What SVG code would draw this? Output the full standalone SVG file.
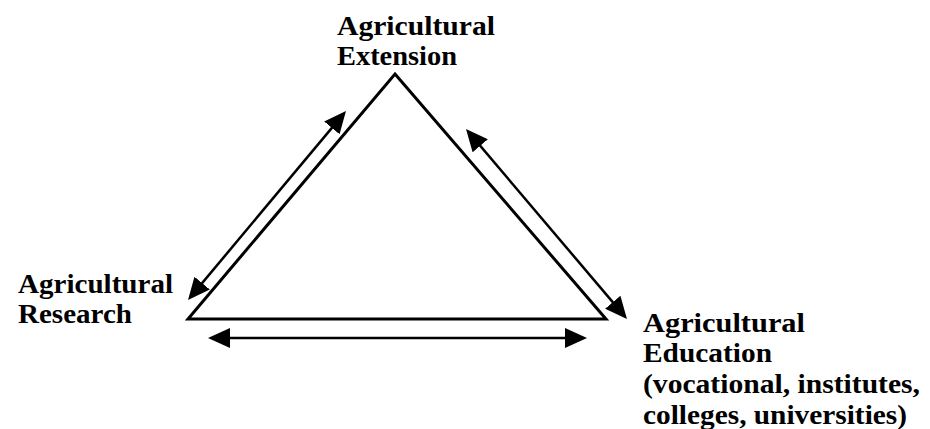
<svg xmlns="http://www.w3.org/2000/svg" width="930" height="429" viewBox="0 0 930 429">
<style>
.lbl{font-family:"Liberation Serif","Times New Roman",serif;font-weight:bold;font-size:27px;fill:#000}
.edge{fill:none;stroke:#000;stroke-width:3;stroke-linejoin:miter}
.arr{fill:none;stroke:#000;stroke-width:2.5;marker-start:url(#ah);marker-end:url(#ah)}
</style>
<defs>
<marker id="ah" viewBox="0 0 22 20" refX="18" refY="10" markerWidth="22" markerHeight="20" markerUnits="userSpaceOnUse" orient="auto-start-reverse">
<path d="M0,0 L22,10 L0,20 Z" fill="#000"/>
</marker>
</defs>
<rect width="930" height="429" fill="#fff"/>
<g id="triangle">
<path class="edge" d="M395,74 L606,319 L188,319 Z"/>
</g>
<g id="connectors">
<line class="arr" x1="190.6" y1="296.9" x2="343.4" y2="114.1"/>
<line class="arr" x1="468.6" y1="132.1" x2="624.4" y2="315.9"/>
<line class="arr" x1="212" y1="338" x2="583" y2="338"/>
</g>
<g id="node-extension">
<text class="lbl" x="337" y="35" textLength="158" lengthAdjust="spacingAndGlyphs">Agricultural</text>
<text class="lbl" x="337" y="65" textLength="120" lengthAdjust="spacingAndGlyphs">Extension</text>
</g>
<g id="node-research">
<text class="lbl" x="18" y="293" textLength="155" lengthAdjust="spacingAndGlyphs">Agricultural</text>
<text class="lbl" x="18" y="323" textLength="114" lengthAdjust="spacingAndGlyphs">Research</text>
</g>
<g id="node-education">
<text class="lbl" x="643" y="332" textLength="162" lengthAdjust="spacingAndGlyphs">Agricultural</text>
<text class="lbl" x="643" y="362" textLength="129" lengthAdjust="spacingAndGlyphs">Education</text>
<text class="lbl" x="643" y="393" textLength="277" lengthAdjust="spacingAndGlyphs">(vocational, institutes,</text>
<text class="lbl" x="643" y="424" textLength="264" lengthAdjust="spacingAndGlyphs">colleges, universities)</text>
</g>
</svg>
